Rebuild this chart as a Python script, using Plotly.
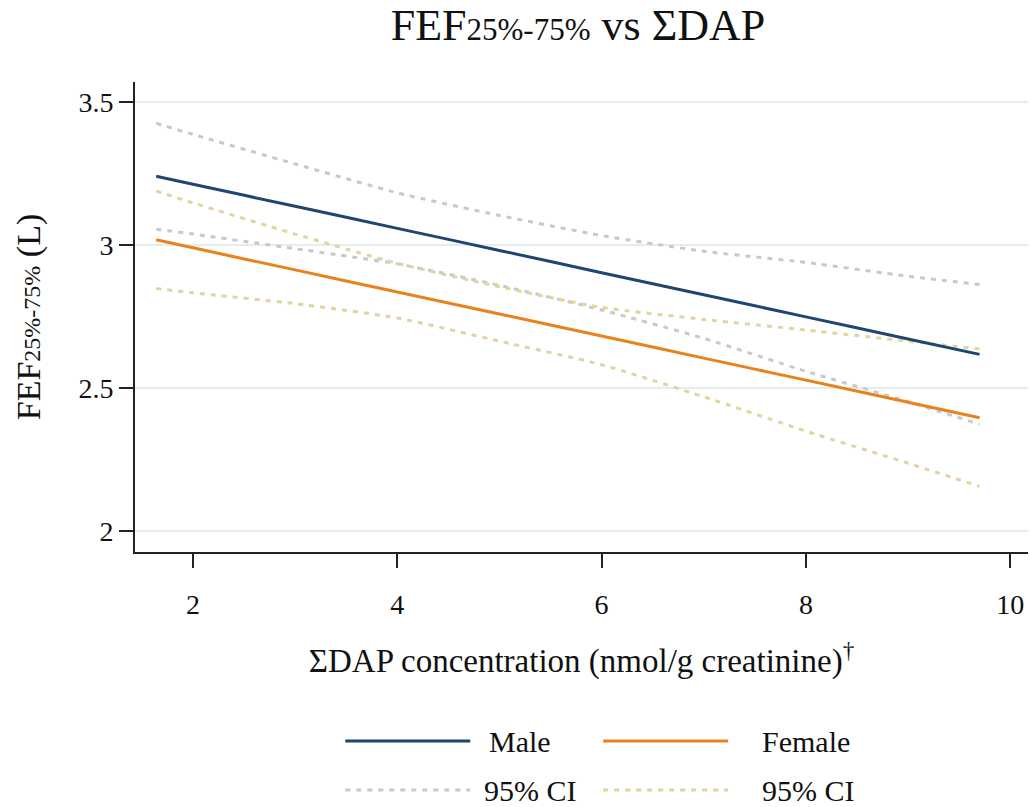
import plotly.graph_objects as go

# Fitted FEF25%-75% against summed DAP, with 95% confidence bands, by sex
dap = [1.64, 2, 3, 4, 5, 6, 7, 8, 9, 9.7]

male_fit = [3.240, 3.212, 3.135, 3.058, 2.981, 2.903, 2.826, 2.749, 2.672, 2.618]
male_hi = [3.425, 3.386, 3.283, 3.182, 3.103, 3.033, 2.978, 2.939, 2.891, 2.862]
male_lo = [3.055, 3.038, 2.987, 2.934, 2.859, 2.773, 2.674, 2.559, 2.453, 2.374]

female_fit = [3.018, 2.990, 2.913, 2.836, 2.759, 2.682, 2.605, 2.528, 2.451, 2.397]
female_hi = [3.188, 3.147, 3.038, 2.936, 2.854, 2.782, 2.740, 2.703, 2.664, 2.637]
female_lo = [2.848, 2.833, 2.795, 2.745, 2.664, 2.582, 2.470, 2.350, 2.238, 2.157]

x_ticks = [2, 4, 6, 8, 10]
y_ticks = [2, 2.5, 3, 3.5]
y_tick_text = ["2", "2.5", "3", "3.5"]

NAVY = "#1f4670"
ORANGE = "#e8821c"
GREY_CI = "#c9c9cc"
TAN_CI = "#e2d49f"
GRID = "#e3edf0"
FONT = "Liberation Serif"
DOT = "5px,6px"

fig = go.Figure()

for ys, col, dash, w in [
    (male_hi, GREY_CI, DOT, 3),
    (male_lo, GREY_CI, DOT, 3),
    (female_hi, TAN_CI, DOT, 3),
    (female_lo, TAN_CI, DOT, 3),
    (male_fit, NAVY, "solid", 3),
    (female_fit, ORANGE, "solid", 3),
]:
    fig.add_trace(go.Scatter(
        x=dap, y=ys, mode="lines", showlegend=False, hoverinfo="skip",
        line=dict(color=col, width=w, dash=dash, shape="spline", smoothing=0.6),
    ))

L, R, T, B = 134.6, 1028.0, 82.0, 552.0
W, H = 1031, 807


def px(x):
    return (x - L) / (R - L)


def py(y):
    return (B - y) / (B - T)


# Key drawn below the axes
legend_rows = [
    (741, [("Male", NAVY, "solid", 345, 470, 487), ("Female", ORANGE, "solid", 603, 728, 760)]),
    (790, [("95% CI", GREY_CI, "dot", 345, 470, 482), ("95% CI", TAN_CI, "dot", 603, 728, 760)]),
]
for yrow, items in legend_rows:
    for label, col, dash, x0, x1, xt in items:
        fig.add_shape(
            type="line", xref="paper", yref="paper",
            x0=px(x0), x1=px(x1), y0=py(yrow), y1=py(yrow),
            line=dict(color=col, width=3, dash=DOT if dash == "dot" else "solid"),
        )
        fig.add_annotation(
            xref="paper", yref="paper", x=px(xt), y=py(yrow),
            text=label, showarrow=False, xanchor="left", yanchor="middle",
            font=dict(family=FONT, size=30, color="#111"),
        )

fig.update_layout(
    width=W, height=H,
    margin=dict(l=L, r=W - R, t=T, b=H - B),
    paper_bgcolor="white", plot_bgcolor="white",
    font=dict(family=FONT, color="#111"),
    title=dict(
        text='FEF<span style="font-size:31px">25%-75%</span> vs ΣDAP',
        xref="container", x=578 / W, xanchor="center",
        yref="container", y=1 - 25 / H, yanchor="middle",
        font=dict(family=FONT, size=44, color="#111"),
    ),
    xaxis=dict(
        range=[1.4325, 10.174], tickvals=x_ticks, ticks="outside", ticklen=14,
        tickwidth=1.5, tickcolor="#222", showline=True, linecolor="#222",
        linewidth=2, showgrid=False, zeroline=False,
        tickfont=dict(family=FONT, size=28, color="#111"),
        ticklabelstandoff=12,
        title=dict(text="ΣDAP concentration (nmol/g creatinine)<sup>†</sup>",
                   font=dict(family=FONT, size=33, color="#111"), standoff=30),
    ),
    yaxis=dict(
        range=[1.928, 3.569], tickvals=y_ticks, ticktext=y_tick_text,
        ticks="outside", ticklen=14, tickwidth=1.5, tickcolor="#222",
        showline=True, linecolor="#222", linewidth=2,
        showgrid=True, gridcolor=GRID, gridwidth=2, zeroline=False,
        tickfont=dict(family=FONT, size=28, color="#111"),
        title=dict(text='FEF<span style="font-size:24px">25%-75%</span> (L)',
                   font=dict(family=FONT, size=34, color="#111"), standoff=28),
    ),
)

fig.write_html("out.html")
